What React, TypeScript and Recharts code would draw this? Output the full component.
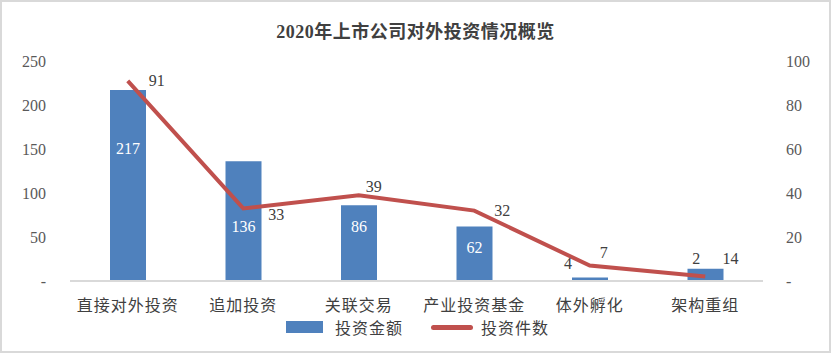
import { Bar, ComposedChart, Line, XAxis, YAxis, Legend, LabelList } from 'recharts';

const categories = ['直接对外投资', '追加投资', '关联交易', '产业投资基金', '体外孵化', '架构重组'];
const amounts = [217, 136, 86, 62, 4, 14];
const counts = [91, 33, 39, 32, 7, 2];
const leftTicks = [0, 50, 100, 150, 200, 250];
const rightTicks = [0, 20, 40, 60, 80, 100];

// label nudges (px) so the numbers sit roughly where the original puts them
const barLabelShift = [
  { dx: 0, dy: 58, inside: true },
  { dx: 0, dy: 65, inside: true },
  { dx: 0, dy: 21, inside: true },
  { dx: 0, dy: 21, inside: true },
  { dx: -22, dy: -14, inside: false },
  { dx: 25, dy: -10, inside: false },
];
const lineLabelShift = [
  { dx: 29, dy: 0 },
  { dx: 33, dy: 6 },
  { dx: 15, dy: -9 },
  { dx: 28, dy: 0 },
  { dx: 14, dy: -13 },
  { dx: -9, dy: -18 },
];

const data = categories.map((name, i) => ({ name, amount: amounts[i], count: counts[i] }));

const FONT = "'Liberation Serif', 'Noto Sans CJK SC', serif";
const BLUE = '#4f81bd';
const RED = '#c0504d';

const dashZero = (v: number) => (v === 0 ? '-' : String(v));

function BarLabel(props: any) {
  const { x, y, width, value, index } = props;
  const s = barLabelShift[index];
  return (
    <text
      x={x + width / 2 + s.dx}
      y={y + s.dy}
      textAnchor="middle"
      dominantBaseline="central"
      fill={s.inside ? '#ffffff' : '#404040'}
      fontSize={16}
    >
      {value}
    </text>
  );
}

function LineLabel(props: any) {
  const { x, y, value, index } = props;
  const s = lineLabelShift[index];
  return (
    <text x={x + s.dx} y={y + s.dy} textAnchor="middle" dominantBaseline="central" fill="#404040" fontSize={16}>
      {value}
    </text>
  );
}

function LegendContent() {
  return (
    <div style={{ display: 'flex', justifyContent: 'center', alignItems: 'center', paddingTop: 4, paddingLeft: 4, fontSize: 16, letterSpacing: 1, color: '#404040' }}>
      <span style={{ display: 'inline-block', width: 37, height: 12, background: BLUE, marginRight: 12 }} />
      <span style={{ marginRight: 28 }}>投资金额</span>
      <span style={{ display: 'inline-block', width: 42, height: 5, borderRadius: 3, background: RED, marginRight: 8 }} />
      <span>投资件数</span>
    </div>
  );
}

export default function App() {
  return (
    <div
      style={{
        position: 'absolute',
        left: 0,
        top: 0,
        width: 831,
        height: 353,
        boxSizing: 'border-box',
        border: '2px solid #d9d9d9',
        background: '#fff',
        fontFamily: FONT,
      }}
    >
      <div
        style={{
          position: 'absolute',
          top: 15,
          width: '100%',
          textAlign: 'center',
          fontSize: 18,
          fontWeight: 'bold',
          letterSpacing: 0.5,
          color: '#404040',
        }}
      >
        2020年上市公司对外投资情况概览
      </div>
      <ComposedChart width={827} height={349} data={data} margin={{ top: 59, right: 0, bottom: 0, left: 0 }}>
        <XAxis
          dataKey="name"
          height={30}
          tickLine={false}
          axisLine={{ stroke: '#d9d9d9', strokeWidth: 2 }}
          tickMargin={13}
          tick={{ fill: '#404040', fontSize: 16, letterSpacing: 1 }}
          interval={0}
        />
        <YAxis
          yAxisId="left"
          width={68}
          domain={[0, 250]}
          ticks={leftTicks}
          tickFormatter={dashZero}
          axisLine={false}
          tickLine={false}
          tickMargin={18}
          tick={{ fill: '#595959', fontSize: 16 }}
        />
        <YAxis
          yAxisId="right"
          orientation="right"
          width={66}
          domain={[0, 100]}
          ticks={rightTicks}
          tickFormatter={dashZero}
          axisLine={false}
          tickLine={false}
          tickMargin={17}
          tick={{ fill: '#595959', fontSize: 16, textAnchor: 'start' }}
        />
        <Legend verticalAlign="bottom" height={40} content={<LegendContent />} />
        <Bar yAxisId="left" dataKey="amount" name="投资金额" fill={BLUE} barSize={36} isAnimationActive={false}>
          <LabelList dataKey="amount" content={<BarLabel />} />
        </Bar>
        <Line
          yAxisId="right"
          type="linear"
          dataKey="count"
          name="投资件数"
          stroke={RED}
          strokeWidth={4}
          dot={false}
          activeDot={false}
          isAnimationActive={false}
        >
          <LabelList dataKey="count" content={<LineLabel />} />
        </Line>
      </ComposedChart>
    </div>
  );
}
